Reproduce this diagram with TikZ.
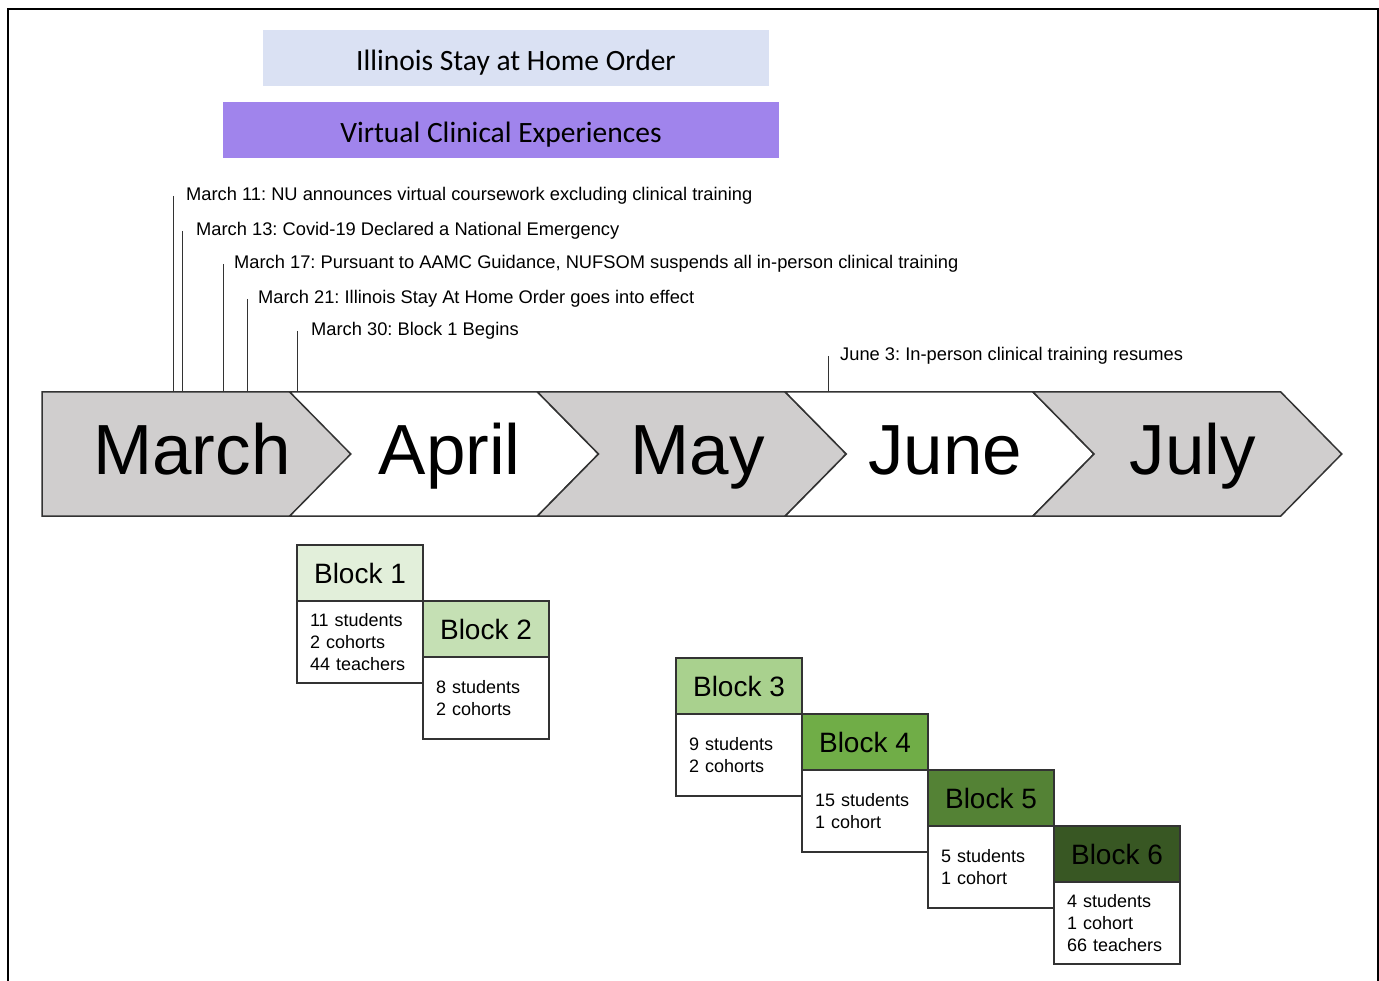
\documentclass[tikz,border=0pt]{standalone}
\usepackage{fontspec}
\setmainfont{Liberation Sans}
\newfontfamily\calibri{Carlito}
\usetikzlibrary{positioning}
\frenchspacing

\definecolor{stayblue}{HTML}{DAE1F3}
\definecolor{virtpurple}{HTML}{A084EC}
\definecolor{chevgray}{HTML}{D0CECE}
\definecolor{edge}{HTML}{333333}
\definecolor{gA}{HTML}{E2EFDA}
\definecolor{gB}{HTML}{C5E0B4}
\definecolor{gC}{HTML}{A9D18E}
\definecolor{gD}{HTML}{70AD47}
\definecolor{gE}{HTML}{548235}
\definecolor{gF}{HTML}{385723}

\begin{document}
\begin{tikzpicture}[x=1pt,y=-1pt,
	band/.style={minimum width=506pt, minimum height=56pt, inner sep=0pt,
		text height=27pt, text depth=2pt,
		font=\calibri\fontsize{29.5}{31}\selectfont},
	event/.style={anchor=west, inner sep=0pt, font=\fontsize{18.3}{20}\selectfont},
	tick/.style={draw=edge, line width=1pt},
	chevron/.style={draw=edge, line width=1.5pt},
	month/.style={anchor=base, inner sep=0pt, font=\fontsize{71}{75}\selectfont},
	blockhead/.style={draw=edge, line width=1.5pt, fill=#1, minimum width=126pt,
		minimum height=56pt, inner sep=0pt, outer sep=0pt,
		font=\fontsize{28}{30}\selectfont},
	blockbody/.style={draw=edge, line width=1.5pt, fill=white, minimum width=126pt,
		minimum height=82pt, text width=100pt, inner xsep=13pt, inner ysep=0pt,
		outer sep=0pt, align=left, font=\fontsize{18}{22}\selectfont}]
	\useasboundingbox (0,0) rectangle (1379,981);
	\draw[line width=2pt] (8,981) -- (8,9) -- (1378,9) -- (1378,981);

	% bars on top
	\node[band, fill=stayblue, minimum width=506pt] (stay) at (516,58) {Illinois Stay at Home Order};
	\node[band, fill=virtpurple, minimum width=556pt] (virtual) at (501,130) {Virtual Clinical Experiences};

	% months
	\draw[chevron, fill=chevgray] (42,392) -- (290,392) -- (352,454) -- (290,516) -- (42,516) -- cycle;
	\node[month] (March) at (192,474) {March};
	\foreach \i/\m/\f in {1/April/white, 2/May/chevgray, 3/June/white, 4/July/chevgray}{
		\draw[chevron, fill=\f] ({42+247.75*\i},392) -- ++(247.75,0) -- ++(61,62) -- ++(-61,62)
			-- ++(-247.75,0) -- ++(61,-62) -- cycle;
		\node[month] (\m) at ({42+247.75*\i+160},474) {\m};
	}

	% dates
	\foreach \nm/\lx/\tx/\ly/\txt in {
		e11/173/186/196/{March 11: NU announces virtual coursework excluding clinical training},
		e13/182/196/231/{March 13: Covid-19 Declared a National Emergency},
		e17/223/234/264/{March 17: Pursuant to AAMC Guidance, NUFSOM suspends all in-person clinical training},
		e21/247/258/299/{March 21: Illinois Stay At Home Order goes into effect},
		e30/297/311/331/{March 30: Block 1 Begins},
		j3/828/840/356/{June 3: In-person clinical training resumes}}{
		\node[event] (\nm) at (\tx,\ly) {\txt};
		\coordinate (\nm-foot) at (\lx,392);
		\draw[tick] (\nm-foot |- \nm.west) -- (\nm-foot);
	}

	% blocks
	\node[blockhead=gA, anchor=north west] (b1h) at (297,545) {Block 1};
	\node[blockbody, below=0pt of b1h] (b1) {11 students\\2 cohorts\\44 teachers};
	\node[blockhead=gB, below right=0pt and 0pt of b1h] (b2h) {Block 2};
	\node[blockbody, below=0pt of b2h] (b2) {8 students\\2 cohorts};

	\node[blockhead=gC, anchor=north west] (b3h) at (676,658) {Block 3};
	\node[blockbody, below=0pt of b3h] (b3) {9 students\\2 cohorts};
	\node[blockhead=gD, below right=0pt and 0pt of b3h] (b4h) {Block 4};
	\node[blockbody, below=0pt of b4h] (b4) {15 students\\1 cohort};
	\node[blockhead=gE, below right=0pt and 0pt of b4h] (b5h) {Block 5};
	\node[blockbody, below=0pt of b5h] (b5) {5 students\\1 cohort};
	\node[blockhead=gF, below right=0pt and 0pt of b5h] (b6h) {Block 6};
	\node[blockbody, below=0pt of b6h] (b6) {4 students\\1 cohort\\66 teachers};
\end{tikzpicture}
\end{document}
